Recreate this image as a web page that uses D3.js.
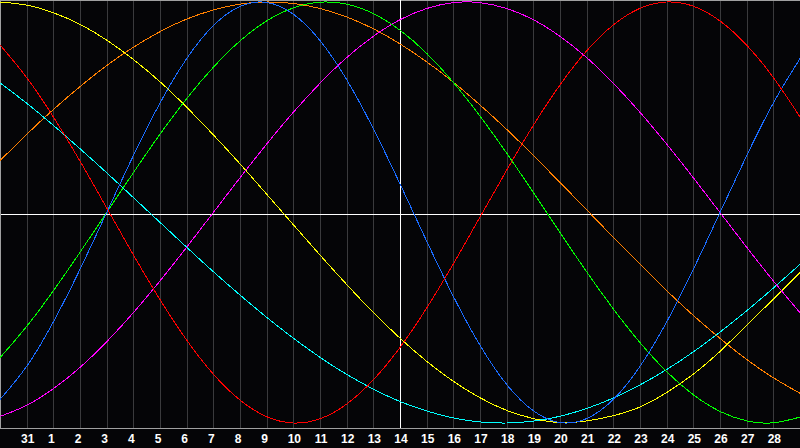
<!DOCTYPE html>
<html>
<head>
<meta charset="utf-8">
<script src="https://cdn.jsdelivr.net/npm/d3@7"></script>
<style>
  html, body { margin: 0; padding: 0; background: #050507; }
  svg { display: block; }
</style>
</head>
<body>
<div id="container"></div>
<script>
/* DATA */
// day index: -1 = left edge, 0 = "31", 1..28 = days of month, 29 = right edge
const days = d3.range(-1, 30);
const dayLabels = ["31", "1", "2", "3", "4", "5", "6", "7", "8", "9", "10", "11", "12", "13",
  "14", "15", "16", "17", "18", "19", "20", "21", "22", "23", "24", "25", "26", "27", "28"];
const today = 14;

const blue = [-0.888, -0.731, -0.520, -0.270, 0.000, 0.270, 0.520, 0.731, 0.888, 0.979, 0.998,
  0.942, 0.817, 0.631, 0.398, 0.136, -0.136, -0.398, -0.631, -0.817, -0.942, -0.998, -0.979,
  -0.888, -0.731, -0.520, -0.270, 0.000, 0.270, 0.520, 0.731];
const red = [0.796, 0.641, 0.454, 0.244, 0.022, -0.201, -0.414, -0.606, -0.768, -0.891, -0.970,
  -1.000, -0.980, -0.910, -0.795, -0.641, -0.454, -0.244, -0.022, 0.201, 0.414, 0.606, 0.768,
  0.891, 0.970, 1.000, 0.980, 0.910, 0.795, 0.641, 0.454];
const green = [-0.690, -0.541, -0.372, -0.189, 0.000, 0.189, 0.372, 0.541, 0.690, 0.815, 0.910,
  0.972, 0.999, 0.990, 0.945, 0.866, 0.756, 0.618, 0.458, 0.282, 0.095, -0.095, -0.282,
  -0.458, -0.618, -0.756, -0.866, -0.945, -0.990, -0.999, -0.972];
const magenta = [-0.969, -0.916, -0.837, -0.736, -0.614, -0.476, -0.325, -0.165, 0.000, 0.165,
  0.325, 0.476, 0.614, 0.736, 0.837, 0.916, 0.969, 0.997, 0.997, 0.969, 0.916, 0.837, 0.736,
  0.614, 0.476, 0.325, 0.165, 0.000, -0.165, -0.325, -0.476];
const yellow = [1.000, 0.985, 0.949, 0.894, 0.819, 0.727, 0.621, 0.500, 0.369, 0.231, 0.087,
  -0.058, -0.202, -0.342, -0.475, -0.597, -0.707, -0.802, -0.880, -0.940, -0.979, -0.998,
  -0.990, -0.965, -0.924, -0.855, -0.768, -0.660, -0.535, -0.412, -0.285];
const orange = [0.246, 0.371, 0.489, 0.598, 0.698, 0.785, 0.859, 0.919, 0.962, 0.990, 1.000,
  0.993, 0.969, 0.929, 0.873, 0.801, 0.716, 0.619, 0.511, 0.395, 0.271, 0.143, 0.013, -0.118,
  -0.246, -0.371, -0.489, -0.598, -0.698, -0.785, -0.859];
const cyan = [0.616, 0.519, 0.414, 0.303, 0.189, 0.071, -0.047, -0.165, -0.281, -0.392, -0.498,
  -0.597, -0.688, -0.769, -0.839, -0.898, -0.943, -0.976, -0.995, -1.000, -0.991, -0.968,
  -0.931, -0.881, -0.819, -0.746, -0.662, -0.568, -0.467, -0.359, -0.246];

const series = [
  {name: "awareness", color: "#ff8000", values: orange},
  {name: "spiritual", color: "#00ffff", values: cyan},
  {name: "aesthetic", color: "#ffff00", values: yellow},
  {name: "intuitive", color: "#ff00ff", values: magenta},
  {name: "intellectual", color: "#00ff00", values: green},
  {name: "physical", color: "#1a6cff", values: blue},
  {name: "emotional", color: "#ff0000", values: red}
];

/* CONSTANTS */
const width = 800,
  height = 448,
  plotBottom = 428;

/* SCALES */
const xScale = d3.scaleLinear()
  .domain([-1, 29])
  .range([0, width]);

const yScale = d3.scaleLinear()
  .domain([-1, 1])
  .range([423, 2]);

/* SVG */
const svg = d3.select("#container")
  .append("svg")
  .attr("width", width)
  .attr("height", height)
  .style("background-color", "#050507");

// vertical day grid
const gridAxis = d3.axisBottom(xScale)
  .tickValues(d3.range(0, 29))
  .tickSize(-plotBottom)
  .tickFormat("");

svg.append("g")
  .attr("class", "grid")
  .attr("transform", `translate(0, ${plotBottom})`)
  .call(gridAxis)
  .call(g => g.select(".domain").remove())
  .call(g => g.selectAll("line")
    .attr("stroke", "#3a3a3c")
    .attr("shape-rendering", "crispEdges"));

// frame: top, left, bottom
svg.append("path")
  .attr("d", `M0.5,${plotBottom + 0.5}V0.5H${width}M0,${plotBottom + 0.5}H${width}`)
  .attr("fill", "none")
  .attr("stroke", "#a0a0a0")
  .attr("shape-rendering", "crispEdges");

// today + zero lines
svg.append("line")
  .attr("x1", xScale(today)).attr("x2", xScale(today))
  .attr("y1", 0).attr("y2", plotBottom)
  .attr("stroke", "#ffffff")
  .attr("shape-rendering", "crispEdges");

svg.append("line")
  .attr("x1", 1).attr("x2", width)
  .attr("y1", plotBottom / 2 + 0.5).attr("y2", plotBottom / 2 + 0.5)
  .attr("stroke", "#ffffff")
  .attr("shape-rendering", "crispEdges");

/* LINES */
const lineGen = d3.line()
  .x((d, i) => xScale(days[i]))
  .y(d => yScale(d))
  .curve(d3.curveNatural);

svg.selectAll(".cycle")
  .data(series)
  .join("path")
  .attr("class", d => "cycle " + d.name)
  .attr("fill", "none")
  .attr("stroke", d => d.color)
  .attr("stroke-width", 1)
  .attr("shape-rendering", "crispEdges")
  .attr("d", d => lineGen(d.values));

/* DAY LABELS */
const labelAxis = d3.axisBottom(xScale)
  .tickValues(d3.range(0, 29))
  .tickSize(0)
  .tickPadding(0)
  .tickFormat(i => dayLabels[i]);

svg.append("g")
  .attr("class", "xAxis")
  .attr("transform", `translate(0, ${plotBottom})`)
  .call(labelAxis)
  .call(g => g.select(".domain").remove())
  .call(g => g.selectAll("text")
    .attr("y", 15)
    .attr("dy", 0)
    .attr("dx", i => dayLabels[i].length === 1 ? -2.5 : 0.5)
    .attr("fill", "#ffffff")
    .attr("font-family", "'Liberation Sans', Arial, sans-serif")
    .attr("font-weight", "bold")
    .attr("font-size", 12));
</script>
</body>
</html>
